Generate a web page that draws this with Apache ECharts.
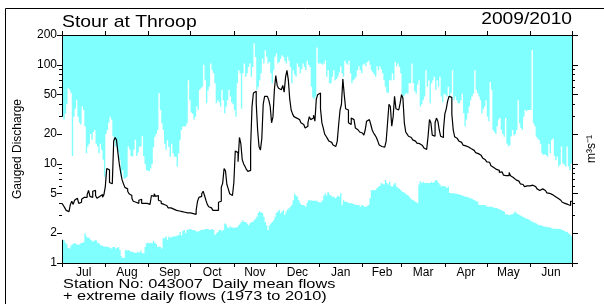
<!DOCTYPE html>
<html>
<head>
<meta charset="utf-8">
<script src="https://cdn.jsdelivr.net/npm/echarts@6/dist/echarts.min.js"></script>
<style>
  html, body { margin: 0; padding: 0; background: #fff; }
  #chart { width: 604px; height: 304px; }
</style>
</head>
<body>
<div id="chart"></div>
<script>
// water year July 2009 - June 2010, one value per day
const months = ['Jul', 'Aug', 'Sep', 'Oct', 'Nov', 'Dec', 'Jan', 'Feb', 'Mar', 'Apr', 'May', 'Jun']
const monthStarts = [0, 31, 62, 92, 123, 153, 184, 215, 243, 274, 304, 335, 365]
const yLabels = [1, 2, 5, 10, 20, 50, 100, 200]
const yMinorTicks = [3, 4, 6, 7, 8, 9, 30, 40, 60, 70, 80, 90]

// daily mean flow 2009/2010 (m3/s)
const dailyFlow = [
  4.0, 3.8, 3.6, 3.4, 3.3, 3.4, 3.9, 4.2, 3.9, 4.3, 4.5, 4.3, 4.0, 4.1, 4.4, 4.6, 4.7, 4.6, 4.9, 5.4, 4.7, 4.6, 5.3, 5.4, 4.8, 4.5, 4.7, 4.7, 4.9, 4.6, 4.9,
  5.9, 9.0, 8.7, 6.5, 6.3, 6.4, 17, 18.5, 17.5, 13, 10, 8.2, 6.9, 6.3, 5.8, 5.6, 5.3, 5.0, 4.8, 4.5, 4.2, 4.1, 4.0, 4.0, 4.3, 4.4, 4.0, 4.0, 4.0, 4.0, 3.9,
  3.9, 4.0, 4.8, 4.7, 5.0, 4.7, 4.8, 4.3, 4.2, 4.0, 3.9, 3.8, 3.8, 3.7, 3.6, 3.6, 3.5, 3.5, 3.45, 3.4, 3.4, 3.35, 3.35, 3.3, 3.3, 3.25, 3.3, 3.2, 3.2, 3.2,
  3.2, 3.15, 3.15, 3.1, 3.4, 4.2, 4.6, 4.7, 5.0, 5.3, 4.8, 4.3, 3.9, 3.7, 3.6, 3.5, 3.4, 3.4, 3.4, 3.4, 4.1, 4.2, 5.8, 6.4, 9.0, 8.5, 6.2, 5.6, 5.0, 4.8, 4.7,
  6.5, 13.5, 13, 10.5, 18.5, 16, 11, 10, 9.4, 8.8, 8.4, 8.6, 15, 38, 52, 54, 41, 22, 15, 13.8, 18, 40, 48, 48, 47, 44, 38, 26, 30, 56,
  78, 62, 58, 56, 55, 62, 53, 75, 88, 70, 45, 35, 32, 30, 29, 28, 28, 27, 26, 25, 24.5, 23, 24, 26, 30, 28, 29, 31, 27, 45, 50,
  52, 36, 26, 23, 20, 19, 18, 17, 16.5, 16, 15.5, 15, 15, 17, 25, 35, 40, 72, 50, 36, 35, 26, 25, 29, 28, 27, 23, 22, 21.5, 21, 20.5,
  20, 19.5, 22, 27, 28, 28, 25, 22, 20.5, 19.5, 18.5, 17, 15.5, 15, 15, 14.8, 15, 17, 26, 40, 38, 24, 30, 48, 36, 35, 36, 41,
  50, 46, 26, 21, 20, 19, 18.5, 18, 17.5, 17, 16.5, 16.2, 16, 15.7, 15.3, 15, 14.5, 14, 14.5, 19, 28, 26, 19.5, 19, 26, 29, 27, 22, 19, 18.5, 22,
  32, 36, 43, 48, 47, 32, 22, 18.8, 18, 17.5, 17, 16.5, 16, 15.5, 15.2, 15, 14.8, 14.5, 14.2, 14, 13.7, 13.4, 13, 12.7, 12.4, 12.2, 12, 11.5, 11, 10.8,
  10.5, 10.4, 10.2, 9.6, 9.2, 8.9, 8.8, 8.8, 8.6, 8.2, 8.3, 8.0, 7.7, 7.6, 7.4, 7.6, 8.2, 7.6, 7.3, 7.0, 6.9, 6.8, 6.7, 6.5, 6.3, 6.2, 6.0, 5.9, 6.0, 6.1, 6.0,
  6.0, 6.1, 6.0, 5.9, 5.8, 5.6, 5.4, 5.3, 5.6, 5.8, 5.4, 5.2, 5.1, 5.05, 5.0, 4.9, 4.8, 4.7, 4.65, 4.5, 4.4, 4.3, 4.2, 4.1, 4.0, 3.95, 3.9, 3.85, 3.8, 4.2
]

// highest daily flow on record for each day, 1973-2010
const maxFlow = [
  30, 28, 32, 40, 58, 56, 52, 12, 30, 36, 44, 30, 26, 25, 38, 35, 24, 12.8, 15, 16, 20, 17.5, 21, 22, 16, 15, 12.8, 16, 13.8, 11, 7.4,
  20, 22, 26, 30, 28, 19, 17, 15, 15, 13, 11, 7.4, 8.7, 7.1, 7.2, 7.4, 15, 14, 12, 11.8, 14, 17.5, 12, 13, 15, 15, 19, 12, 10, 8.7, 8.5,
  8.5, 9, 10, 14.7, 18.8, 20, 22, 52, 35, 25.7, 22, 16, 13.8, 17.3, 14.8, 11.8, 16, 12.8, 11.8, 11.8, 9.4, 12.8, 17.3, 22, 23.8, 23.8, 24, 25.7, 70, 44,
  33, 32, 28, 30, 38, 35, 56, 58, 60, 100, 70, 41, 55, 60, 103, 88, 82, 65, 41, 44, 42, 38, 56, 44, 32.5, 38, 44, 56, 48, 42, 40,
  35, 30, 65, 88, 82, 36, 82, 103, 76, 82, 95, 103, 76, 95, 165, 120, 56, 60, 70, 82, 115, 103, 140, 121, 103, 107, 82, 65, 88, 121,
  130, 103, 107, 115, 125, 121, 110, 103, 121, 110, 95, 65, 88, 80, 76, 103, 95, 82, 90, 103, 95, 88, 110, 100, 95, 60, 47, 45, 48, 150, 103,
  103, 103, 100, 103, 110, 76, 88, 65, 65, 76, 88, 70, 72, 76, 84, 97, 82, 76, 110, 103, 100, 110, 82, 65, 70, 72, 76, 88, 97, 88, 82,
  100, 103, 97, 107, 110, 100, 88, 84, 80, 76, 97, 88, 97, 90, 82, 70, 60, 53, 52, 70, 70, 82, 70, 107, 97, 103, 95, 82,
  50, 48, 50, 52, 51, 65, 65, 103, 65, 54, 51, 63, 70, 38, 40, 44, 48, 88, 60, 70, 41, 65, 70, 76, 56, 70, 60, 76, 48, 42, 51,
  50, 48, 60, 48, 52, 88, 44, 48, 44, 41, 41, 44, 51, 32.5, 24, 28, 32.5, 38, 44, 48, 51, 88, 56, 52, 48, 44, 32.5, 36, 38, 44,
  30, 27, 67, 56, 22, 21, 20, 24, 28, 29, 22, 20, 18.8, 29, 16, 15, 15.5, 19, 22, 19.5, 20, 22, 44, 25.7, 23, 22, 30, 35, 34, 35, 35,
  35, 141, 25.7, 24, 18.8, 18, 17.4, 16, 12.8, 12.3, 12.5, 12.3, 11.8, 16, 12.8, 17.4, 18, 12, 10.9, 11.8, 9.4, 9.8, 15, 10.1, 9.8, 9.4, 15, 9.4, 8.7, 10.1
]

// lowest daily flow on record for each day, 1973-2010
const minFlow = [
  1.72, 1.7, 1.6, 1.55, 1.42, 1.4, 1.5, 1.55, 1.57, 1.58, 1.55, 1.52, 1.55, 1.58, 1.6, 1.62, 2.0, 1.85, 1.8, 1.8, 1.72, 1.68, 1.65, 1.7, 1.7, 1.6, 1.58, 1.52, 1.5, 1.48, 1.47,
  1.46, 1.46, 1.45, 1.42, 1.4, 1.45, 1.45, 1.4, 1.42, 1.45, 1.35, 1.17, 1.12, 1.13, 1.35, 1.34, 1.35, 1.32, 1.3, 1.3, 1.28, 1.27, 1.27, 1.3, 1.28, 1.34, 1.26, 1.25, 1.45, 1.58, 1.6,
  1.58, 1.6, 1.58, 1.68, 1.6, 1.55, 1.45, 1.47, 1.45, 1.4, 1.78, 1.8, 1.85, 1.72, 1.85, 1.8, 1.83, 1.85, 1.85, 1.86, 1.88, 1.92, 2.05, 1.9, 2.1, 2.15, 2.0, 2.15, 2.18, 2.2,
  2.18, 2.15, 2.15, 2.12, 2.08, 2.08, 2.12, 2.15, 2.18, 2.15, 2.2, 2.2, 2.22, 2.15, 2.17, 2.2, 2.15, 1.92, 2.0, 2.05, 2.15, 2.15, 2.1, 2.15, 2.5, 2.45, 2.3, 2.25, 2.35, 2.3, 2.28,
  2.25, 2.3, 2.3, 2.4, 2.5, 2.6, 2.7, 2.6, 2.6, 2.5, 2.4, 2.5, 2.6, 2.6, 2.7, 2.8, 2.93, 3.2, 3.3, 3.25, 3.2, 2.93, 2.6, 2.4, 2.15, 2.4, 2.5, 2.6, 2.7, 2.93,
  3.2, 3.3, 3.43, 3.17, 3.3, 3.43, 3.05, 3.3, 3.45, 3.56, 3.7, 3.85, 4.3, 5.0, 4.8, 4.67, 4.3, 4.0, 3.85, 3.85, 3.8, 3.7, 4.05, 4.3, 4.3, 4.28, 4.25, 4.25, 4.25, 4.25, 4.1,
  4.1, 4.1, 4.3, 4.8, 5.05, 4.8, 5.25, 4.9, 4.8, 4.67, 4.67, 4.5, 4.6, 4.8, 4.67, 5.05, 3.85, 4.3, 4.15, 4.15, 4.1, 4.0, 4.0, 4.0, 3.95, 3.9, 3.85, 3.85, 3.85, 3.7, 3.85,
  3.8, 3.7, 3.7, 3.75, 3.85, 4.5, 5.45, 5.4, 5.45, 5.45, 5.7, 5.9, 6.0, 6.4, 6.3, 6.2, 6.9, 6.4, 6.2, 6.6, 6.0, 5.9, 6.2, 6.4, 5.9, 5.7, 5.6, 5.45,
  5.25, 5.2, 5.05, 4.9, 4.85, 4.67, 4.5, 4.35, 4.3, 4.2, 4.1, 4.0, 6.2, 6.7, 6.4, 6.6, 6.4, 6.4, 6.4, 6.4, 6.4, 6.6, 6.4, 6.6, 6.9, 6.8, 6.4, 6.2, 5.9, 6.0, 5.95,
  5.9, 5.7, 5.9, 5.1, 5.1, 5.05, 5.05, 5.0, 5.0, 4.95, 4.9, 4.85, 4.8, 4.75, 4.67, 4.65, 4.6, 4.55, 4.5, 4.45, 4.35, 4.3, 4.2, 4.15, 3.85, 3.85, 3.85, 3.85, 3.85, 3.8,
  3.7, 3.7, 3.7, 3.7, 3.65, 3.6, 3.6, 3.56, 3.5, 3.45, 3.43, 3.35, 3.3, 3.1, 3.1, 3.05, 3.05, 3.1, 3.1, 3.2, 3.3, 3.17, 3.1, 3.05, 3.0, 2.95, 2.9, 2.85, 2.8, 2.78, 2.72,
  2.68, 2.6, 2.58, 2.55, 2.5, 2.45, 2.4, 2.4, 2.37, 2.35, 2.32, 2.32, 2.3, 2.3, 2.28, 2.24, 2.22, 2.22, 2.22, 2.22, 2.2, 2.2, 2.17, 2.15, 2.1, 2.07, 2.05, 2.0, 1.95, 1.85
]

const cyan = '#80ffff'
const font = 'Liberation Sans'
const black = { color: '#000', width: 1 }

// label positions in the middle of each month
const monthMids = months.map((m, i) => (monthStarts[i] + monthStarts[i + 1]) / 2)

// each day holds its value until the next day
function stepPoints(values) {
  let pts = values.map((v, i) => [i, v])
  pts.push([values.length, values[values.length - 1]])
  return pts
}

// white band between record low and record high
function renderBand(params, api) {
  let pts = []
  for (let i = 0; i < maxFlow.length; i++) {
    pts.push(api.coord([i, maxFlow[i]]), api.coord([i + 1, maxFlow[i]]))
  }
  for (let i = minFlow.length - 1; i >= 0; i--) {
    pts.push(api.coord([i + 1, minFlow[i]]), api.coord([i, minFlow[i]]))
  }
  return {
    type: 'polygon',
    shape: { points: pts },
    style: { fill: '#fff', stroke: null }
  }
}

function logAxis(position, values, tickLen, showLabels) {
  return {
    type: 'log',
    logBase: 10,
    min: 1,
    max: 200,
    position: position,
    axisLine: { show: true, onZero: false, lineStyle: black },
    axisTick: { show: true, customValues: values, length: tickLen, lineStyle: black },
    axisLabel: {
      show: showLabels,
      customValues: values,
      formatter: v => String(v),
      color: '#000',
      fontFamily: font,
      fontSize: 12,
      margin: 5
    },
    splitLine: { show: false },
    minorTick: { show: false }
  }
}

function monthAxis(position, showLabels) {
  return {
    type: 'value',
    min: 0,
    max: 365,
    position: position,
    axisLine: { show: true, onZero: false, lineStyle: black },
    axisTick: { show: true, customValues: monthStarts, length: 4, lineStyle: black },
    axisLabel: {
      show: showLabels,
      customValues: monthMids,
      formatter: v => months[monthMids.indexOf(v)] || '',
      color: '#000',
      fontFamily: font,
      fontSize: 12,
      margin: 4
    },
    splitLine: { show: false }
  }
}

let chart = echarts.init(document.getElementById('chart'))
let options = {
  animation: false,
  grid: {
    left: 62, right: 32, top: 35, bottom: 41,
    show: true, backgroundColor: cyan, borderWidth: 0
  },
  xAxis: [monthAxis('bottom', true), monthAxis('top', false)],
  yAxis: [
    logAxis('left', yLabels, 5, true),
    logAxis('left', yMinorTicks, 3, false),
    logAxis('right', yLabels, 6, false),
    logAxis('right', yMinorTicks, 3, false)
  ],
  series: [
    {
      type: 'custom',
      renderItem: renderBand,
      data: [[0, 1]],
      silent: true,
      z: 1
    },
    {
      type: 'line',
      data: stepPoints(dailyFlow),
      step: 'end',
      symbol: 'none',
      silent: true,
      lineStyle: { color: '#000', width: 1.2 },
      z: 3
    }
  ],
  graphic: [
    { type: 'rect', silent: true, shape: { x: 5.5, y: 8.5, width: 700, height: 400 },
      style: { fill: 'none', stroke: '#000', lineWidth: 1 } },
    { type: 'text', x: 62, y: 22, scaleX: 1.14,
      style: { text: 'Stour at Throop', fontFamily: font, fontSize: 17, fill: '#000', align: 'left', verticalAlign: 'middle' } },
    { type: 'text', x: 572, y: 19.5, scaleX: 1.2,
      style: { text: '2009/2010', fontFamily: font, fontSize: 16, fill: '#000', align: 'right', verticalAlign: 'middle' } },
    { type: 'text', x: 17.5, y: 149, rotation: Math.PI / 2,
      style: { text: 'Gauged Discharge', fontFamily: font, fontSize: 12, fill: '#000', align: 'center', verticalAlign: 'middle' } },
    { type: 'text', x: 592, y: 149, rotation: Math.PI / 2,
      style: { text: 'm³s⁻¹', fontFamily: font, fontSize: 12, fill: '#000', align: 'center', verticalAlign: 'middle' } },
    { type: 'text', x: 63, y: 284.5, scaleX: 1.21,
      style: { text: 'Station No: 043007  Daily mean flows', fontFamily: font, fontSize: 13.5, fill: '#000', align: 'left', verticalAlign: 'middle' } },
    { type: 'text', x: 63, y: 296, scaleX: 1.21,
      style: { text: '+ extreme daily flows (1973 to 2010)', fontFamily: font, fontSize: 13.5, fill: '#000', align: 'left', verticalAlign: 'middle' } }
  ]
}
chart.setOption(options)
</script>
</body>
</html>
